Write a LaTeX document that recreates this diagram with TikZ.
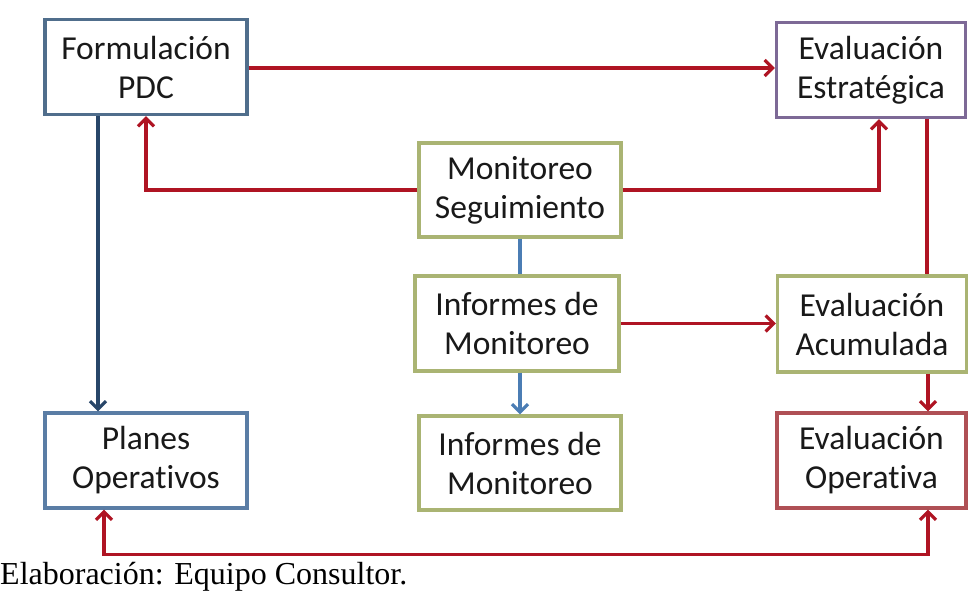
\documentclass[tikz,border=0pt]{standalone}
\usepackage{fontspec}
\setmainfont{Liberation Serif}
\newfontfamily\boxfont[Ligatures=NoCommon]{Carlito}
\usetikzlibrary{arrows.meta}
\definecolor{cForm}{RGB}{80,110,140}
\definecolor{cEstr}{RGB}{125,105,150}
\definecolor{cOlive}{RGB}{170,180,115}
\definecolor{cPlan}{RGB}{90,125,165}
\definecolor{cOper}{RGB}{175,80,85}
\definecolor{cRed}{RGB}{175,20,35}
\definecolor{cDark}{RGB}{40,70,105}
\definecolor{cLight}{RGB}{75,125,180}
\definecolor{cText}{RGB}{25,25,25}
\tikzset{
  boxnode/.style={draw, line width=3.2pt, fill=white, inner sep=0pt, align=center,
    text=cText, font=\boxfont\fontsize{33.5}{39}\selectfont, minimum height=95pt},
  widebox/.style={boxnode, minimum width=202pt},
  narrowbox/.style={boxnode, minimum width=189pt},
  tip/.tip={Straight Barb[length=8pt,width=16pt,line width=3.2pt]},
  link/.style={line width=3.2pt, -tip},
  plainlink/.style={line width=3.2pt},
  redlink/.style={link, cRed},
}
\begin{document}
\begin{tikzpicture}[x=1pt,y=-1pt]
\useasboundingbox (0,0) rectangle (969,592);
% boxes
\node[widebox, draw=cForm] (form) at (146,67) {Formulación\\PDC};
\node[narrowbox, draw=cEstr] (estr) at (871,70) {Evaluación\\Estratégica};
\node[widebox, draw=cOlive, minimum height=94pt] (mon) at (520,190) {Monitoreo\\Seguimiento};
\node[widebox, draw=cOlive, minimum width=204pt] (inf1) at (517,323.5) {Informes de\\Monitoreo};
\node[narrowbox, draw=cOlive, minimum height=96pt] (acum) at (872,324) {Evaluación\\Acumulada};
\node[widebox, draw=cPlan] (plan) at (146,460.5) {Planes\\Operativos};
\node[widebox, draw=cOlive, minimum height=94pt] (inf2) at (520,463) {Informes de\\Monitoreo};
\node[narrowbox, draw=cOper] (oper) at (871.5,460.5) {Evaluación\\Operativa};
% caption
\node[anchor=base west, inner sep=0pt, font=\fontsize{32}{38}\selectfont] (cap) at (0,584) {Elaboración: Equipo Consultor.};
% connectors
\draw[redlink] (form.east |- 0,68) -- (estr.west |- 0,68);
\draw[link, cDark] ([xshift=-48pt]form.south) -- ([xshift=-48pt]plan.north);
\draw[redlink] (mon.west) -| (form.south);
\draw[redlink] (mon.east) -| ([xshift=8pt]estr.south);
\draw[plainlink, cLight] (mon.south) -- (mon.south |- inf1.north);
\draw[link, cLight] (inf2.north |- inf1.south) -- (inf2.north);
\draw[redlink] (inf1.east) -- (acum.west |- inf1.east);
\draw[plainlink, cRed] ([xshift=56pt]estr.south) -- ([xshift=56pt]estr.south |- acum.north);
\draw[redlink] ([xshift=56pt]acum.south) -- ([xshift=56.5pt]oper.north);
\coordinate (botl) at ([xshift=-42pt,yshift=-45pt]plan.south);
\draw[line width=3.2pt, cRed, tip-tip]
  ([xshift=-42pt]plan.south) -- (botl) -| ([xshift=56.5pt]oper.south);
\end{tikzpicture}
\end{document}
